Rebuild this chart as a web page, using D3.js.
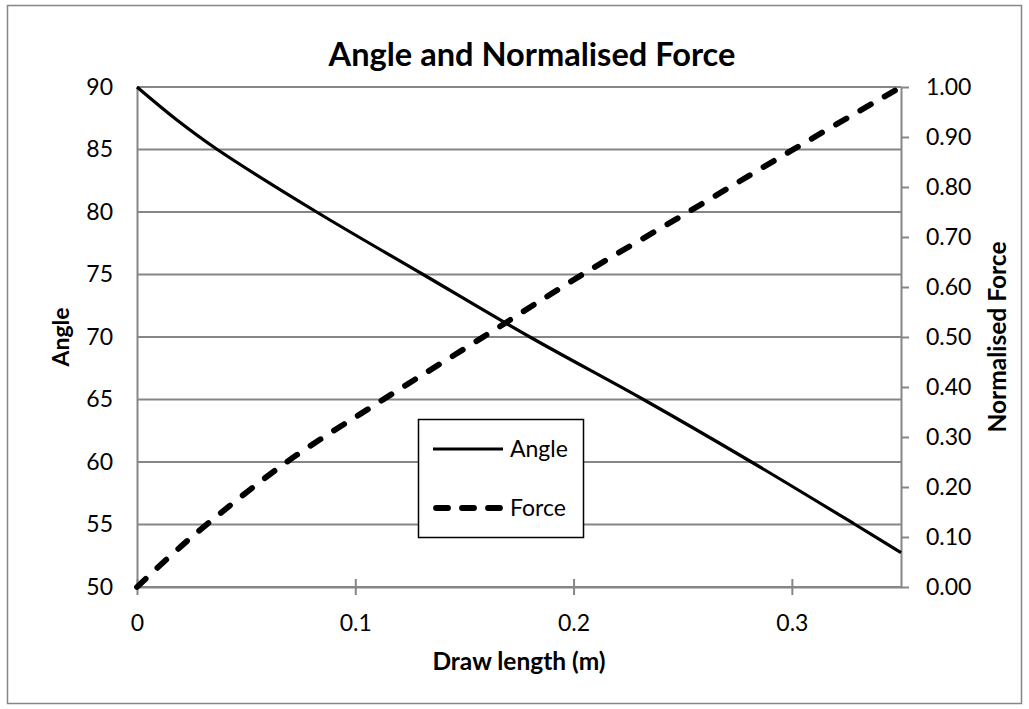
<!DOCTYPE html>
<html>
<head>
<meta charset="utf-8">
<script src="https://cdn.jsdelivr.net/npm/d3@7"></script>
<style>
  html, body { margin: 0; padding: 0; background: #ffffff; }
  svg { display: block; }
  text { font-family: Lato, "Open Sans", sans-serif; fill: #000; }
</style>
</head>
<body>
<svg id="chart" width="1029" height="709"></svg>
<script>
// ---- data ----
const angleLength = [0, 0.018, 0.0368, 0.0823, 0.1311, 0.180, 0.232, 0.2815, 0.329, 0.35];
const angleValues = [90, 87.4, 85, 80, 75, 70, 65, 60, 55, 52.75];
const forceLength = [0, 0.016, 0.0319, 0.0686, 0.1128, 0.1586, 0.204, 0.2525, 0.3006, 0.35];
const forceValues = [0, 0.065, 0.125, 0.25, 0.375, 0.5, 0.625, 0.75, 0.875, 1.0];
const xTicks = [0, 0.1, 0.2, 0.3];
const leftTicks = [50, 55, 60, 65, 70, 75, 80, 85, 90];
const rightTicks = [0, 0.1, 0.2, 0.3, 0.4, 0.5, 0.6, 0.7, 0.8, 0.9, 1.0];
const seriesNames = ["Angle", "Force"];
const titleText = "Angle and Normalised Force";
const xTitle = "Draw length (m)";
const yLeftTitle = "Angle";
const yRightTitle = "Normalised Force";

// ---- layout ----
const svg = d3.select("#chart");
const plot = { left: 137, right: 901, top: 87, bottom: 587 };
const grey = "#868686";
const tickFont = 23;

svg.append("rect").attr("x", 7.5).attr("y", 5.5).attr("width", 1014).attr("height", 698)
  .attr("fill", "#fff").attr("stroke", grey).attr("stroke-width", 1.5);

const x = d3.scaleLinear().domain([0, 0.35]).range([plot.left, plot.right]);
const yL = d3.scaleLinear().domain([50, 90]).range([plot.bottom, plot.top]);
const yR = d3.scaleLinear().domain([0, 1]).range([plot.bottom, plot.top]);

// gridlines
svg.append("g").selectAll("line").data(leftTicks).join("line")
  .attr("x1", plot.left).attr("x2", plot.right)
  .attr("y1", d => yL(d)).attr("y2", d => yL(d))
  .attr("stroke", grey).attr("stroke-width", 2);

// left axis (no ticks)
const leftAxis = d3.axisLeft(yL).tickValues(leftTicks).tickSize(0).tickPadding(24).tickFormat(d3.format("d"));
const gL = svg.append("g").attr("transform", `translate(${plot.left},0)`).call(leftAxis);
gL.select(".domain").attr("stroke", grey).attr("stroke-width", 2);
gL.selectAll("text").attr("font-size", tickFont).attr("font-family", "Lato, sans-serif").attr("fill", "#000");

// right axis
const rightAxis = d3.axisRight(yR).tickValues(rightTicks).tickSize(8).tickSizeOuter(0).tickPadding(17).tickFormat(d3.format(".2f"));
const gR = svg.append("g").attr("transform", `translate(${plot.right},0)`).call(rightAxis);
gR.select(".domain").attr("stroke", grey).attr("stroke-width", 2);
gR.selectAll(".tick line").attr("stroke", grey).attr("stroke-width", 2);
gR.selectAll("text").attr("font-size", tickFont).attr("font-family", "Lato, sans-serif").attr("fill", "#000");

// bottom axis
const bottomAxis = d3.axisBottom(x).tickValues(xTicks).tickSize(8).tickSizeOuter(0)
  .tickFormat(d => d === 0 ? "0" : d3.format(".1f")(d));
const gB = svg.append("g").attr("transform", `translate(0,${plot.bottom})`).call(bottomAxis);
gB.select(".domain").attr("stroke", grey).attr("stroke-width", 2);
gB.selectAll(".tick line").attr("stroke", grey).attr("stroke-width", 2).attr("y1", -8);
gB.selectAll("text").attr("font-size", tickFont).attr("font-family", "Lato, sans-serif").attr("fill", "#000")
  .attr("y", 44).attr("dy", 0);

// lines
const angleData = angleLength.map((l, i) => [l, angleValues[i]]);
const forceData = forceLength.map((l, i) => [l, forceValues[i]]);

const angleLine = d3.line().x(d => x(d[0])).y(d => yL(d[1])).curve(d3.curveCatmullRom.alpha(0.5));
const forceLine = d3.line().x(d => x(d[0])).y(d => yR(d[1])).curve(d3.curveCatmullRom.alpha(0.5));

svg.append("path").datum(angleData).attr("d", angleLine)
  .attr("fill", "none").attr("stroke", "#000").attr("stroke-width", 3.2);
svg.append("path").datum(forceData).attr("d", forceLine)
  .attr("fill", "none").attr("stroke", "#000").attr("stroke-width", 5.8)
  .attr("stroke-dasharray", "12,16").attr("stroke-linecap", "round");

// legend
const lg = svg.append("g");
lg.append("rect").attr("x", 418.5).attr("y", 419.5).attr("width", 165).attr("height", 118)
  .attr("fill", "#fff").attr("stroke", "#000").attr("stroke-width", 1.5);
const legendRows = [
  { name: seriesNames[0], y: 449, width: 3.2, dash: null, cap: "butt" },
  { name: seriesNames[1], y: 508, width: 5.8, dash: "12,14", cap: "round" }
];
legendRows.forEach(r => {
  const ln = lg.append("line").attr("x1", r.cap === "round" ? 436 : 433).attr("x2", r.cap === "round" ? 500 : 503)
    .attr("y1", r.y).attr("y2", r.y).attr("stroke", "#000").attr("stroke-width", r.width)
    .attr("stroke-linecap", r.cap);
  if (r.dash) ln.attr("stroke-dasharray", r.dash);
  lg.append("text").attr("x", 510).attr("y", r.y).attr("dy", "0.36em")
    .attr("font-size", tickFont).text(r.name);
});

// titles
svg.append("text").attr("x", 532).attr("y", 66).attr("text-anchor", "middle")
  .attr("font-size", 32.6).attr("font-weight", "bold").text(titleText);
svg.append("text").attr("x", 519).attr("y", 670).attr("text-anchor", "middle")
  .attr("font-size", 24.5).attr("font-weight", "bold").text(xTitle);
svg.append("text").attr("transform", `translate(69,337) rotate(-90)`).attr("text-anchor", "middle")
  .attr("font-size", 23).attr("font-weight", "bold").text(yLeftTitle);
svg.append("text").attr("transform", `translate(1006,337) rotate(-90)`).attr("text-anchor", "middle")
  .attr("font-size", 24.5).attr("font-weight", "bold").text(yRightTitle);
</script>
</body>
</html>
